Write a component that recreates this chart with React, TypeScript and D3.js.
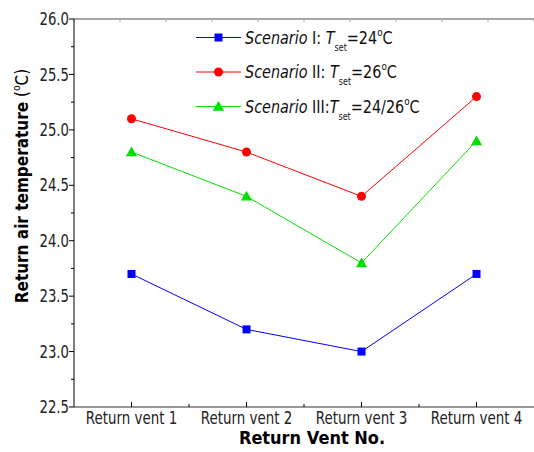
import React from 'react';
import * as d3 from 'd3';

const vents = ['Return vent 1', 'Return vent 2', 'Return vent 3', 'Return vent 4'];
const scenario1 = [23.7, 23.2, 23.0, 23.7];
const scenario2 = [25.1, 24.8, 24.4, 25.3];
const scenario3 = [24.8, 24.4, 23.8, 24.9];
const yMajorTicks = [22.5, 23.0, 23.5, 24.0, 24.5, 25.0, 25.5, 26.0];

const series = [
  { name: 'I', roman: 'I: ', setp: '24', values: scenario1, color: '#0000ff', marker: 'square' },
  { name: 'II', roman: 'II: ', setp: '26', values: scenario2, color: '#ff0000', marker: 'circle' },
  { name: 'III', roman: 'III:', setp: '24/26', values: scenario3, color: '#00e000', marker: 'triangle' },
];

const font = '"DejaVu Sans", sans-serif';

// the original uses a narrow face, so squeeze DejaVu horizontally
const Narrow = ({ x, y, sx = 0.8, rotate = 0, children, ...rest }) => (
  <g transform={`translate(${x},${y}) rotate(${rotate}) scale(${sx},1)`}>
    <text fontFamily={font} {...rest}>{children}</text>
  </g>
);

const Marker = ({ type, x, y, color }) => {
  if (type === 'square') return <rect x={x - 4} y={y - 4} width={8} height={8} fill={color} />;
  if (type === 'circle') return <circle cx={x} cy={y} r={4.5} fill={color} />;
  const sym = d3.symbol().type(d3.symbolTriangle).size(55)();
  return <path d={sym} transform={`translate(${x},${y + 1})`} fill={color} />;
};

const App = () => {
  const width = 534;
  const height = 452;
  const margin = { top: 19, right: 0, bottom: 45, left: 74 };
  const plotW = width - margin.left - margin.right;
  const plotH = height - margin.top - margin.bottom;

  const x = d3.scalePoint().domain(vents).range([0, plotW]).padding(0.5);
  const y = d3.scaleLinear().domain([22.5, 26.0]).range([plotH, 0]);
  const step = x.step();
  const yMinor = d3.range(22.75, 26, 0.5);
  const topTicks = d3.range(0, 11).map(i => (plotW / 10) * i);

  const line = d3.line().x((d, i) => x(vents[i])).y(d => y(d));

  return (
    <svg width={width} height={height} style={{ position: 'absolute', left: 0, top: 0, background: '#fff' }}>
      <g transform={`translate(${margin.left},${margin.top})`}>
        {/* frame */}
        <line x1={0} x2={plotW} y1={0} y2={0} stroke="#888" strokeWidth={1.5} />
        {topTicks.map((t, i) => (
          <line key={`tt${i}`} x1={t} x2={t} y1={0} y2={3} stroke="#aaa" />
        ))}
        <line x1={0} x2={0} y1={0} y2={plotH} stroke="#000" />
        <line x1={0} x2={plotW} y1={plotH} y2={plotH} stroke="#333" />

        {/* y ticks */}
        {yMajorTicks.map(t => (
          <g key={`y${t}`}>
            <line x1={-5} x2={0} y1={y(t)} y2={y(t)} stroke="#000" />
            <Narrow x={-5} y={y(t)} sx={0.78} dy="0.36em" textAnchor="end" fontSize={17} fill="#222">{t.toFixed(1)}</Narrow>
          </g>
        ))}
        {yMinor.map(t => (
          <line key={`ym${t}`} x1={-3} x2={0} y1={y(t)} y2={y(t)} stroke="#000" />
        ))}

        {/* x ticks */}
        {vents.map(v => (
          <g key={v}>
            <line x1={x(v)} x2={x(v)} y1={plotH} y2={plotH - 5} stroke="#000" />
            <Narrow x={x(v)} y={plotH + 16.5} sx={0.79} textAnchor="middle" fontSize={17} fill="#222">{v}</Narrow>
          </g>
        ))}
        {vents.slice(0, 3).map(v => (
          <line key={`xm${v}`} x1={x(v) + step / 2} x2={x(v) + step / 2} y1={plotH} y2={plotH - 3} stroke="#000" />
        ))}

        {/* series */}
        {series.map(s => (
          <g key={s.name}>
            <path d={line(s.values)} fill="none" stroke={s.color} strokeWidth={1} />
            {s.values.map((v, i) => (
              <Marker key={i} type={s.marker} x={x(vents[i])} y={y(v)} color={s.color} />
            ))}
          </g>
        ))}

        {/* legend */}
        {series.map((s, i) => {
          const ly = 18.5 + i * 34.5;
          return (
            <g key={`lg${s.name}`} transform={`translate(122,${ly})`}>
              <line x1={0} x2={45} stroke={s.color} strokeWidth={1} />
              <Marker type={s.marker} x={22.5} y={0} color={s.color} />
              <Narrow x={49} y={0} sx={0.8} dy="0.36em" fontSize={18} fill="#111">
                <tspan fontStyle="italic">Scenario</tspan>
                <tspan> {s.roman}</tspan>
                <tspan fontStyle="italic">T</tspan>
                <tspan fontSize={10} dy={7}>set</tspan>
                <tspan dy={-7}>={s.setp}</tspan>
                <tspan fontSize={11} dy={-8}>o</tspan>
                <tspan dy={8}>C</tspan>
              </Narrow>
            </g>
          );
        })}
      </g>

      {/* axis titles */}
      <Narrow x={28} y={186} rotate={-90} sx={0.85} textAnchor="middle" fontSize={18} fill="#000">
        <tspan fontWeight="bold">Return air temperature</tspan>
        <tspan> (</tspan>
        <tspan fontSize={11} dy={-8}>o</tspan>
        <tspan dy={8}>C)</tspan>
      </Narrow>
      <Narrow x={312} y={444} sx={0.9} textAnchor="middle" fontSize={18} fontWeight="bold" fill="#000">Return Vent No.</Narrow>
    </svg>
  );
};

export default App;
